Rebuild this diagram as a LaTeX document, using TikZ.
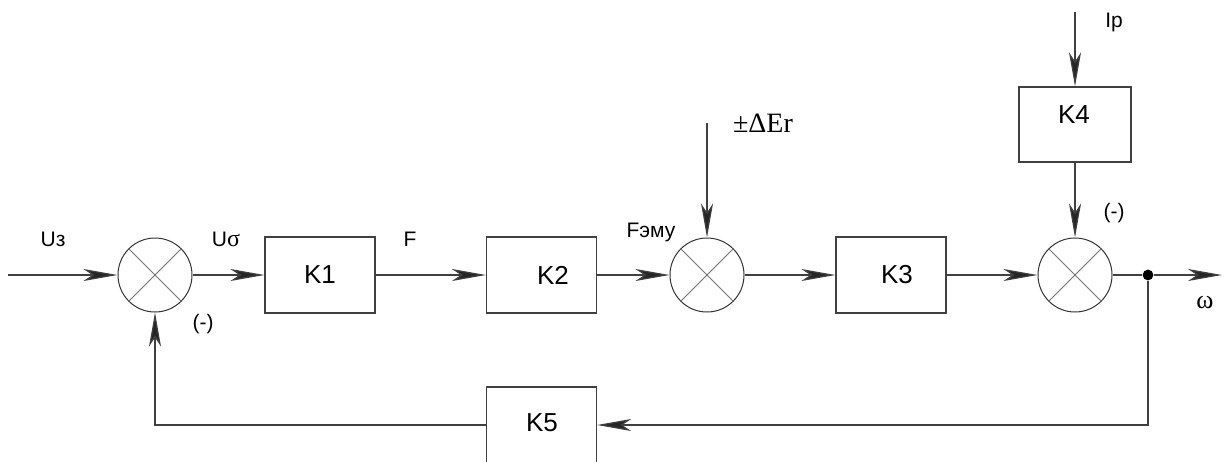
\documentclass[tikz,border=0pt]{standalone}
\usepackage{fontspec}
\setmainfont{Liberation Sans}
\newfontfamily\serifx{Liberation Serif}
\usetikzlibrary{arrows.meta}
\begin{document}
\begin{tikzpicture}[x=0.5pt,y=-0.5pt,
  wire/.style={draw=black!75, line width=0.6pt},
  arr/.style={wire, -{Stealth[length=17pt,width=6pt,inset=4.5pt,fill=black!85]}},
  blk/.style={draw=black!75, line width=0.6pt, minimum width=55pt, minimum height=38pt, inner sep=0pt},
  sumx/.style={circle, draw=black!80, line width=0.5pt, minimum size=37pt, inner sep=0pt},
  crossx/.style={draw=black!55, line width=0.5pt},
  ktxt/.style={font=\fontsize{13}{15}\selectfont, inner sep=0pt},
  lbl/.style={font=\fontsize{10.5}{12}\selectfont, inner sep=0pt},
  dotx/.style={circle, fill=black, inner sep=0pt, minimum size=5.4pt},
]
\clip (0,0) rectangle (1229,461);
\fill[white] (0,0) rectangle (1229,461);
% coordinates
\coordinate (in) at (8,275);
\coordinate (out) at (1222,275);
\coordinate (erin) at (707,123);
\coordinate (ipin) at (1075,12);
% blocks
\node[sumx] (s1) at (155,275) {};
\node[blk] (k1) at (320,275) {};
\node[blk] (k2) at (541.5,275) {};
\node[sumx] (s2) at (707,275) {};
\node[blk] (k3) at (891,275) {};
\node[sumx] (s3) at (1075,275) {};
\node[blk, minimum width=56pt, minimum height=37.5pt] (k4) at (1075,124.5) {};
\node[blk] (k5) at (541.5,425) {};
\node[dotx] (j) at (1148,275) {};
% crosses
\foreach \s in {s1,s2,s3}{
  \draw[crossx] (\s.north west) -- (\s.south east);
  \draw[crossx] (\s.north east) -- (\s.south west);
}
% block texts
\node[ktxt] (k1t) at (320,275) {K1};
\node[ktxt] (k2t) at (553,275) {K2};
\node[ktxt] (k3t) at (897,275) {K3};
\node[ktxt] (k4t) at (1074,115) {K4};
\node[ktxt] (k5t) at (542,423) {K5};
% connectors
\draw[arr] (in) -- (s1.west);
\draw[arr] (s1.east) -- (k1.west);
\draw[arr] (k1.east) -- (k2.west);
\draw[arr] (k2.east) -- (s2.west);
\draw[arr] (s2.east) -- (k3.west);
\draw[arr] (k3.east) -- (s3.west);
\draw[wire] (s3.east) -- (j);
\draw[arr] (j) -- (out);
\draw[arr] (erin) -- (s2.north);
\draw[arr] (ipin) -- (k4.north);
\draw[arr] (k4.south) -- (s3.north);
\draw[arr] (j) |- (k5.east);
\draw[arr] (k5.west) -| (s1.south);
% labels
\node[lbl, anchor=base] (uz) at (53,246) {Uз};
\node[lbl, anchor=base] (us) at (226,246) {U{\serifx\fontsize{12}{14}\selectfont σ}};
\node[lbl] (m1) at (203,324) {(-)};
\node[lbl, anchor=base] (f) at (410,246) {F};
\node[lbl, anchor=base] (fe) at (651,237) {Fэму};
\node[inner sep=0pt, anchor=base, font=\serifx\fontsize{14}{16}\selectfont] (er) at (763,132) {±ΔEr};
\node[lbl, anchor=base] (ip) at (1114,27) {Ip};
\node[lbl] (m3) at (1114,213) {(-)};
\node[inner sep=0pt, anchor=base, font=\serifx\fontsize{13}{15}\selectfont] (w) at (1205,308) {ω};
\end{tikzpicture}
\end{document}
